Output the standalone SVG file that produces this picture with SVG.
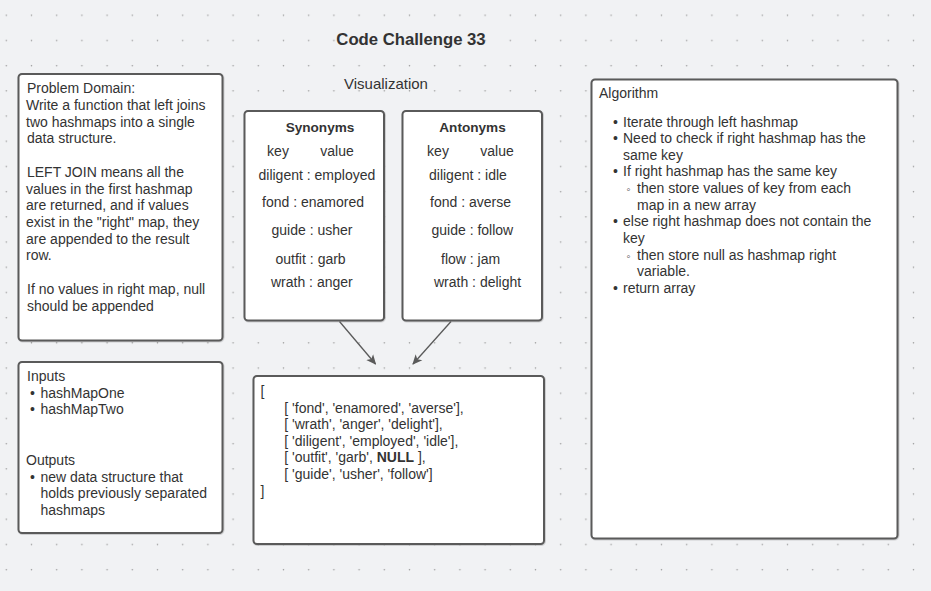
<svg xmlns="http://www.w3.org/2000/svg" width="931" height="591" viewBox="0 0 931 591">
<style>
text{font-family:"Liberation Sans",Arial,sans-serif;font-size:14px;fill:#333}
.box{fill:#fff;stroke:#5a5a5a;stroke-width:2}
.b{font-weight:bold}
.c{text-anchor:middle}
.con{stroke:#5a5a5a;stroke-width:1.3;fill:none}
</style>
<defs>
<pattern id="dots" patternUnits="userSpaceOnUse" x="0" y="0" width="25.2" height="25.2">
<circle cx="6.3" cy="15.3" r="0.8" fill="#9a9a9a"/>
</pattern>
<marker id="arr" markerWidth="10" markerHeight="10" refX="9" refY="5" orient="auto" markerUnits="userSpaceOnUse">
<path d="M0,0.5 L10,5 L0,9.5 L2.5,5 Z" fill="#5a5a5a"/>
</marker>
<filter id="sh" x="-5%" y="-5%" width="110%" height="110%">
<feDropShadow dx="0.6" dy="0.6" stdDeviation="0.5" flood-color="#000" flood-opacity="0.25"/>
</filter>
</defs>
<rect width="931" height="591" fill="#f1f2f4"/>
<rect width="931" height="591" fill="url(#dots)"/>

<g id="title">
<text class="b c" x="411" y="45" style="font-size:16.7px">Code Challenge 33</text>
<text class="c" x="386" y="89" style="font-size:15px">Visualization</text>
</g>

<g id="problem">
<rect class="box" filter="url(#sh)" x="18.5" y="74" width="204" height="266.5" rx="3.5"/>
<text x="27" y="93">Problem Domain:</text>
<text x="26" y="110">Write a function that left joins</text>
<text x="26" y="127">two hashmaps into a single</text>
<text x="27" y="143">data structure.</text>
<text x="27" y="177">LEFT JOIN means all the</text>
<text x="26" y="194">values in the first hashmap</text>
<text x="26" y="210">are returned, and if values</text>
<text x="26" y="227">exist in the "right" map, they</text>
<text x="26" y="244">are appended to the result</text>
<text x="26" y="260">row.</text>
<text x="27" y="294">If no values in right map, null</text>
<text x="27" y="311">should be appended</text>
</g>

<g id="io">
<rect class="box" filter="url(#sh)" x="18.5" y="362" width="204" height="171" rx="3.5"/>
<text x="27" y="381">Inputs</text>
<text x="30" y="398">•</text><text x="40.5" y="398">hashMapOne</text>
<text x="30" y="414">•</text><text x="40.5" y="414">hashMapTwo</text>
<text x="26" y="465">Outputs</text>
<text x="30" y="482">•</text><text x="40.5" y="482">new data structure that</text>
<text x="40.5" y="498">holds previously separated</text>
<text x="40.5" y="515">hashmaps</text>
</g>

<g id="synonyms">
<rect class="box" filter="url(#sh)" x="244.5" y="111" width="139.5" height="209.5" rx="3.5"/>
<text class="b c" x="320" y="132" style="font-size:13.6px">Synonyms</text>
<text class="c" x="278" y="156">key</text>
<text class="c" x="337" y="156">value</text>
<text x="258.5" y="180">diligent : employed</text>
<text x="262" y="207">fond : enamored</text>
<text x="271.5" y="235">guide : usher</text>
<text x="275.5" y="264">outfit<tspan dx="4">: garb</tspan></text>
<text x="271" y="287">wrath : anger</text>
</g>

<g id="antonyms">
<rect class="box" filter="url(#sh)" x="402.5" y="111" width="139.5" height="209.5" rx="3.5"/>
<text class="b c" x="472.5" y="132" style="font-size:13.6px">Antonyms</text>
<text class="c" x="438" y="156">key</text>
<text class="c" x="497" y="156">value</text>
<text x="429" y="180">diligent : idle</text>
<text x="430" y="207">fond : averse</text>
<text x="431.5" y="235">guide : follow</text>
<text x="441" y="264">flow : jam</text>
<text x="434" y="287">wrath : delight</text>
</g>

<g id="result">
<rect class="box" filter="url(#sh)" x="253.5" y="376" width="290.5" height="168" rx="3.5"/>
<text x="260.5" y="396">[</text>
<text x="284.3" y="412.5">[ 'fond', 'enamored', 'averse'],</text>
<text x="284.3" y="429">[ 'wrath', 'anger', 'delight'],</text>
<text x="284.3" y="445.5">[ 'diligent', 'employed', 'idle'],</text>
<text x="284.3" y="462">[ 'outfit', 'garb', <tspan class="b">NULL</tspan> ],</text>
<text x="284.3" y="478.5">[ 'guide', 'usher', 'follow']</text>
<text x="260.5" y="496">]</text>
</g>

<g id="algorithm">
<rect class="box" filter="url(#sh)" x="591.5" y="79.5" width="306" height="459" rx="3.5"/>
<text x="599" y="98">Algorithm</text>
<text x="613" y="126.5">•</text><text x="623" y="126.5">Iterate through left hashmap</text>
<text x="613" y="143">•</text><text x="623" y="143">Need to check if right hashmap has the</text>
<text x="623" y="159.5">same key</text>
<text x="613" y="176">•</text><text x="623" y="176">If right hashmap has the same key</text>
<text x="626.5" y="192.5" style="font-size:11px">◦</text><text x="637" y="192.5">then store values of key from each</text>
<text x="637" y="209.5">map in a new array</text>
<text x="613" y="226">•</text><text x="623" y="226">else right hashmap does not contain the</text>
<text x="623" y="242.5">key</text>
<text x="626.5" y="259.5" style="font-size:11px">◦</text><text x="637" y="259.5">then store null as hashmap right</text>
<text x="637" y="276">variable.</text>
<text x="613" y="293">•</text><text x="623" y="293">return array</text>
</g>

<g id="connectors">
<line class="con" x1="339.5" y1="321.5" x2="375.5" y2="364" marker-end="url(#arr)"/>
<line class="con" x1="451" y1="321.5" x2="413" y2="364" marker-end="url(#arr)"/>
</g>
</svg>
